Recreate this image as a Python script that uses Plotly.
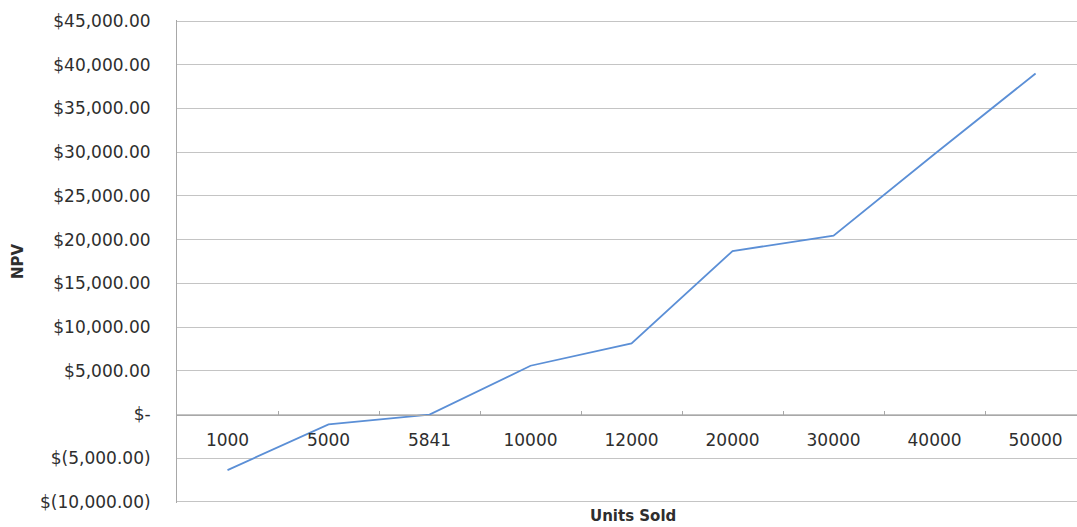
import plotly.graph_objects as go

# NPV sensitivity to units sold
units_sold = ["1000", "5000", "5841", "10000", "12000", "20000", "30000", "40000", "50000"]
npv = [-6350, -1120, 0, 5580, 8140, 18700, 20450, 29800, 39000]

y_tick_values = [-10000, -5000, 0, 5000, 10000, 15000, 20000, 25000, 30000, 35000, 40000, 45000]
y_tick_labels = ["$(10,000.00)", "$(5,000.00)", "$-", "$5,000.00", "$10,000.00", "$15,000.00",
                 "$20,000.00", "$25,000.00", "$30,000.00", "$35,000.00", "$40,000.00", "$45,000.00"]

# a little padding so the first and last gridlines stay visible
Y_MIN, Y_MAX = -10115, 45115
text_color = "#2e2e2e"
grid_color = "#c4c4c4"

fig = go.Figure(
    go.Scatter(
        x=units_sold,
        y=npv,
        mode="lines",
        line=dict(color="#5b8fd6", width=1.8),
        hoverinfo="x+y",
    )
)

# category axis sits on the zero line
zero_pos = (0 - Y_MIN) / (Y_MAX - Y_MIN)

fig.update_layout(
    width=1077,
    height=527,
    margin=dict(l=177, r=0, t=20, b=24),
    paper_bgcolor="white",
    plot_bgcolor="white",
    showlegend=False,
    font=dict(family="DejaVu Sans", size=17, color=text_color),
    xaxis=dict(
        type="category",
        range=[-0.5, 8.41],
        anchor="free",
        position=zero_pos,
        showgrid=False,
        showline=True,
        linecolor="#a8a8a8",
        linewidth=1,
        ticks="inside",
        ticklen=4,
        tickcolor="#a8a8a8",
        tickson="boundaries",
        ticklabelstandoff=10,
        tickfont=dict(family="DejaVu Sans", size=17, color=text_color),
    ),
    yaxis=dict(
        range=[Y_MIN, Y_MAX],
        tickvals=y_tick_values,
        ticktext=y_tick_labels,
        showgrid=True,
        gridcolor=grid_color,
        gridwidth=1,
        zeroline=False,
        showline=True,
        linecolor="#a8a8a8",
        linewidth=1,
        ticks="",
        ticklabelstandoff=22,
        tickfont=dict(family="DejaVu Sans", size=17, color=text_color),
        title=dict(
            text="<b>NPV</b>",
            font=dict(family="DejaVu Sans", size=15, color=text_color),
            standoff=12,
        ),
    ),
    annotations=[
        dict(
            text="<b>Units Sold</b>",
            xref="paper",
            yref="paper",
            x=0.5,
            y=0,
            xshift=6,
            yshift=-13,
            xanchor="center",
            yanchor="middle",
            showarrow=False,
            font=dict(family="DejaVu Sans", size=15, color=text_color),
        )
    ],
)

fig.write_html("out.html")
